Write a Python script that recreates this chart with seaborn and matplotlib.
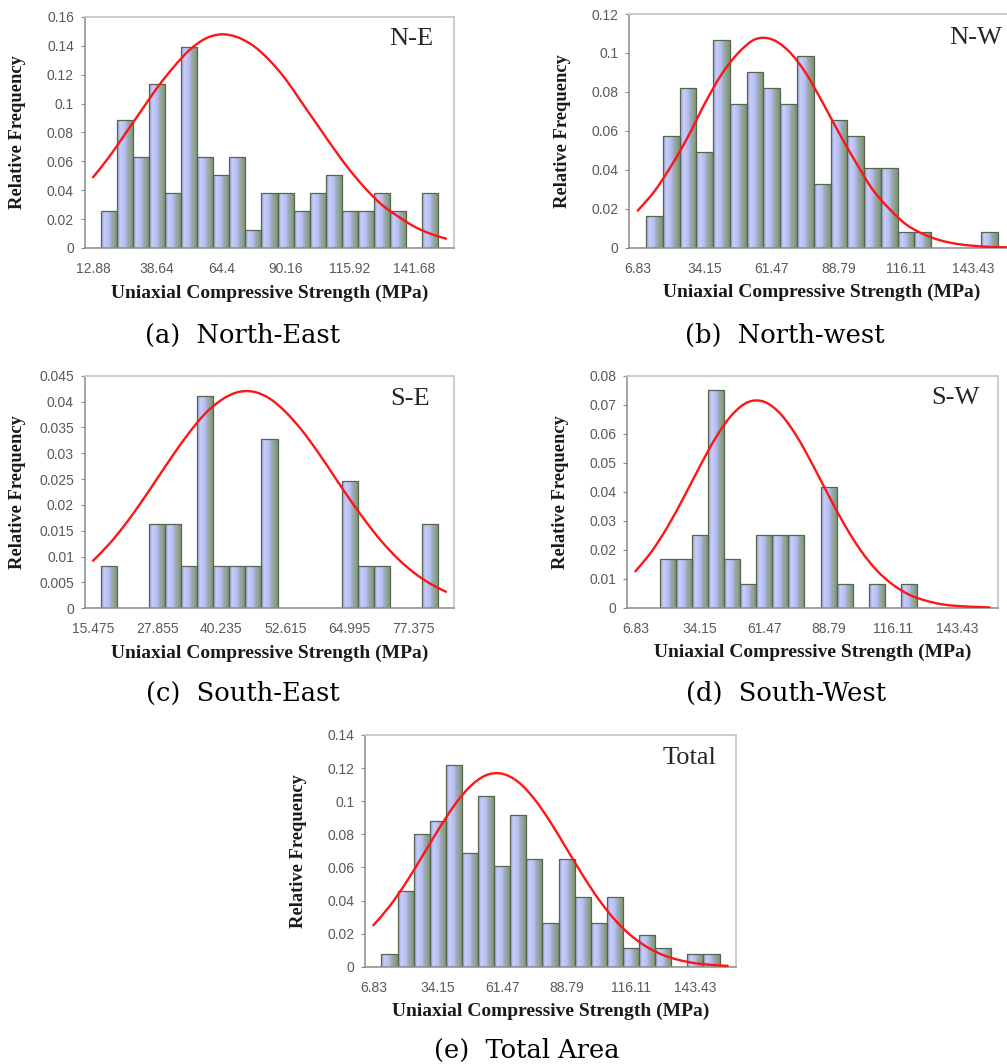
import numpy as np
import pandas as pd
import matplotlib
matplotlib.use("Agg")
import matplotlib.pyplot as plt
import seaborn as sns
from matplotlib.colors import LinearSegmentedColormap
from matplotlib.ticker import FuncFormatter
from matplotlib.path import Path
from matplotlib.patches import PathPatch

# ---------------- data ----------------
ne_ticks = ["12.88", "38.64", "64.4", "90.16", "115.92", "141.68"]
ne_freq = [0, 0.0253, 0.0886, 0.0633, 0.1139, 0.038, 0.1392, 0.0633, 0.0506, 0.0633, 0.0127,
           0.038, 0.038, 0.0253, 0.038, 0.0506, 0.0253, 0.0253, 0.038, 0.0253, 0, 0.038, 0]
ne_fit = [0.049, 0.063, 0.079, 0.095, 0.111, 0.125, 0.137, 0.145, 0.148, 0.146, 0.140, 0.130,
          0.117, 0.101, 0.085, 0.069, 0.054, 0.041, 0.030, 0.022, 0.015, 0.010, 0.0065]

nw_ticks = ["6.83", "34.15", "61.47", "88.79", "116.11", "143.43"]
nw_freq = [0, 0.0164, 0.0574, 0.082, 0.0492, 0.1066, 0.0738, 0.0902, 0.082, 0.0738, 0.0984,
           0.0328, 0.0656, 0.0574, 0.041, 0.041, 0.0082, 0.0082, 0, 0, 0, 0.0082, 0]
nw_fit = [0.019, 0.029, 0.042, 0.057, 0.074, 0.089, 0.100, 0.107, 0.107, 0.101, 0.090, 0.075,
          0.059, 0.044, 0.030, 0.020, 0.012, 0.0071, 0.0039, 0.0020, 0.0010, 0.0004, 0.0002]

se_ticks = ["15.475", "27.855", "40.235", "52.615", "64.995", "77.375"]
se_freq = [0, 0.0082, 0, 0, 0.0164, 0.0164, 0.0082, 0.041, 0.0082, 0.0082, 0.0082, 0.0328,
           0, 0, 0, 0, 0.0246, 0.0082, 0.0082, 0, 0, 0.0164, 0]
se_fit = [0.0092, 0.0124, 0.0162, 0.0205, 0.0251, 0.0297, 0.0340, 0.0377, 0.0403, 0.0418,
          0.0419, 0.0406, 0.0380, 0.0345, 0.0303, 0.0257, 0.0211, 0.0168, 0.0129, 0.0096,
          0.0069, 0.0048, 0.0032]

sw_ticks = ["6.83", "34.15", "61.47", "88.79", "116.11", "143.43"]
sw_freq = [0, 0, 0.0167, 0.0167, 0.025, 0.075, 0.0167, 0.0083, 0.025, 0.025, 0.025, 0,
           0.0417, 0.0083, 0, 0.0083, 0, 0.0083, 0, 0, 0, 0, 0]
sw_fit = [0.0125, 0.0193, 0.0279, 0.0380, 0.0487, 0.0587, 0.0665, 0.0709, 0.0710, 0.0669,
          0.0593, 0.0494, 0.0387, 0.0285, 0.0197, 0.0128, 0.0079, 0.0045, 0.0025, 0.0012,
          0.0006, 0.0003, 0.0001]

tot_ticks = ["6.83", "34.15", "61.47", "88.79", "116.11", "143.43"]
tot_freq = [0, 0.0076, 0.0458, 0.0802, 0.0878, 0.1221, 0.0687, 0.1031, 0.0611, 0.0916, 0.0649,
            0.0267, 0.0649, 0.042, 0.0267, 0.042, 0.0115, 0.0191, 0.0115, 0, 0.0076, 0.0076, 0]
tot_fit = [0.0250, 0.0364, 0.0504, 0.0661, 0.0822, 0.0971, 0.1088, 0.1157, 0.1166, 0.1116,
           0.1013, 0.0873, 0.0713, 0.0553, 0.0406, 0.0283, 0.0188, 0.0118, 0.0070, 0.0040,
           0.0021, 0.0011, 0.0005]

panel_tags = ["N-E", "N-W", "S-E", "S-W", "Total"]
captions = ["(a)  North-East", "(b)  North-west", "(c)  South-East", "(d)  South-West", "(e)  Total Area"]
y_max = [0.16, 0.12, 0.045, 0.08, 0.14]
y_step = [0.02, 0.02, 0.005, 0.01, 0.02]

# ---------------- style / layout ----------------
W, H = 1007, 1064
sns.set_theme(style="white")
plt.rcParams["font.family"] = ["Liberation Sans", "DejaVu Sans"]

fig = plt.figure(figsize=(W / 100, H / 100), dpi=100, facecolor="white")

# axes boxes in pixels: left, right, top, bottom
boxes = [(85, 454, 17, 248), (629.3, 1015, 14, 247.7), (85, 454, 375.7, 608.3),
         (627.3, 997.7, 375.7, 607.7), (365.3, 735.7, 735, 966.7)]
tag_offsets = [(-21, -11), (-13, -13), (-24, -12), (-18, -11), (-19, -12)]
caption_pos = [(243, 335), (785, 335), (243, 693), (786, 693), (527, 1050)]

cmap = LinearSegmentedColormap.from_list(
    "bar", [(0.0, "#9aa3dc"), (0.22, "#c9cff9"), (0.5, "#b3bbee"), (0.62, "#9dacc4"),
            (0.75, "#93a78f"), (1.0, "#7c917a")])
grad = np.linspace(0, 1, 64).reshape(1, -1)

freqs = [ne_freq, nw_freq, se_freq, sw_freq, tot_freq]
fits = [ne_fit, nw_fit, se_fit, sw_fit, tot_fit]
ticks = [ne_ticks, nw_ticks, se_ticks, sw_ticks, tot_ticks]


def smooth_path(xs, ys):
    """Smoothed line through the given points (Catmull-Rom drawn as Bezier)."""
    P = np.column_stack([xs, ys]).astype(float)
    Pe = np.vstack([P[0], P, P[-1]])
    verts = [P[0]]
    codes = [Path.MOVETO]
    for k in range(len(P) - 1):
        p0, p1, p2, p3 = Pe[k], Pe[k + 1], Pe[k + 2], Pe[k + 3]
        verts += [p1 + (p2 - p0) / 6.0, p2 - (p3 - p1) / 6.0, p2]
        codes += [Path.CURVE4] * 3
    return Path(np.array(verts), codes)


for i in range(5):
    l, r, t, b = boxes[i]
    ax = fig.add_axes([l / W, 1 - b / H, (r - l) / W, (b - t) / H])
    df = pd.DataFrame({"bin": np.arange(len(freqs[i])), "freq": freqs[i]})
    sns.barplot(data=df, x="bin", y="freq", ax=ax, width=1.0, color="#b3bbee",
                saturation=1, edgecolor="#56654f", linewidth=0.9, zorder=2)
    for p in list(ax.patches):
        if p.get_height() <= 0:
            continue
        bb = p.get_bbox()
        im = ax.imshow(grad, extent=[bb.x0, bb.x1, bb.y0, bb.y1], aspect="auto",
                       cmap=cmap, interpolation="bilinear", zorder=1.5)
        im.set_clip_path(p)
        p.set_facecolor("none")
    ax.add_patch(PathPatch(smooth_path(df["bin"].values, fits[i]), fill=False,
                           edgecolor="#ff1515", lw=1.7, zorder=5, capstyle="round"))

    ax.set_xlim(-0.5, len(freqs[i]) - 0.5)
    ax.set_ylim(0, y_max[i])
    ax.set_aspect("auto")
    ax.set_yticks(np.arange(0, y_max[i] + y_step[i] / 2, y_step[i]))
    ax.yaxis.set_major_formatter(FuncFormatter(lambda v, p: "%g" % round(v, 4)))
    ax.set_xticks(np.arange(0, 4 * len(ticks[i]), 4))
    ax.set_xticklabels(ticks[i])
    ax.tick_params(axis="y", left=True, length=3, width=0.8, color="#8c8c8c",
                   labelsize=10, labelcolor="#595959", pad=5)
    ax.tick_params(axis="x", bottom=False, length=0, labelsize=10,
                   labelcolor="#595959", pad=10)
    for s in ["top", "right"]:
        ax.spines[s].set_color("#c8c8c8")
        ax.spines[s].set_linewidth(1.3)
    for s in ["left", "bottom"]:
        ax.spines[s].set_color("#8c8c8c")
        ax.spines[s].set_linewidth(1.1)

    ax.set_xlabel("Uniaxial Compressive Strength (MPa)", fontfamily="Liberation Serif",
                  fontweight="bold", fontsize=14, color="#1a1a1a")
    ax.set_ylabel("Relative Frequency", fontfamily="Liberation Serif",
                  fontweight="bold", fontsize=13.3, color="#1a1a1a")
    pw, ph = r - l, b - t
    ax.xaxis.set_label_coords(0.5, -45 / ph)
    ax.xaxis.label.set_verticalalignment("center")
    ax.yaxis.set_label_coords(-67 / pw, 0.5)
    ax.yaxis.label.set_verticalalignment("center")

    ax.annotate(panel_tags[i], xy=(1, 1), xycoords="axes fraction",
                xytext=tag_offsets[i], textcoords="offset pixels", ha="right", va="top",
                fontfamily="Liberation Serif", fontsize=19, color="#262626")

    cx, cy = caption_pos[i]
    fig.text(cx / W, 1 - cy / H, captions[i], ha="center", va="center",
             fontfamily="DejaVu Serif", fontsize=18.5, color="black")

fig.savefig("out.png", dpi=100, facecolor="white")
